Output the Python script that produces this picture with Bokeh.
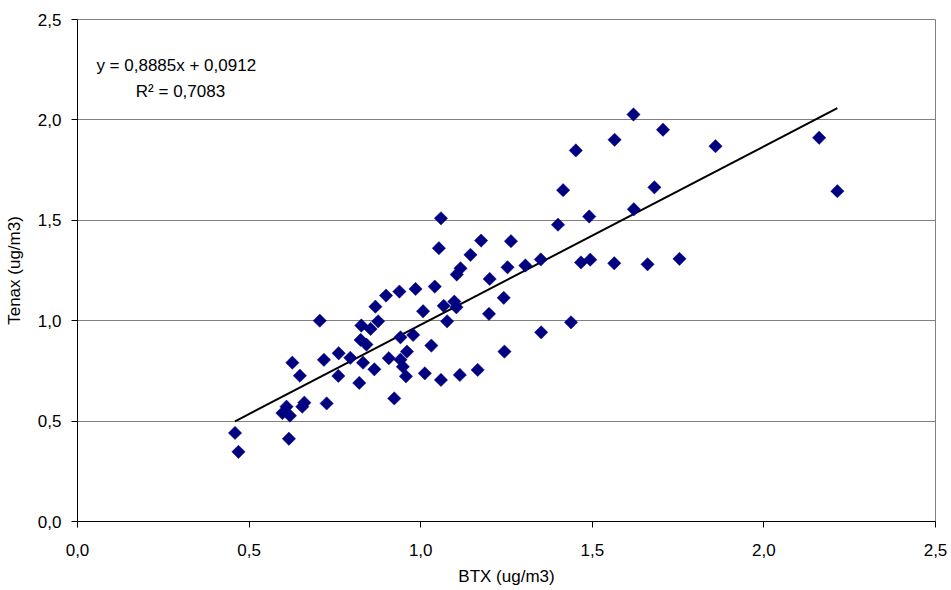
import math
from bokeh.plotting import figure
from bokeh.models import Range1d, FixedTicker, CustomJSTickFormatter, Label, ColumnDataSource
from bokeh.embed import file_html
from bokeh.resources import INLINE

# --- data ---
btx = [0.459, 0.469, 0.616, 0.597, 0.609, 0.619, 0.626, 0.648, 0.655, 0.661,
       0.706, 0.718, 0.726, 0.761, 0.760, 0.795, 0.821, 0.825, 0.842, 0.832,
       0.827, 0.854, 0.876, 0.868, 0.865, 0.899, 0.938, 0.985, 1.041, 0.907,
       0.923, 0.941, 0.978, 0.941, 0.948, 0.960, 0.957, 1.007, 1.031, 1.012,
       1.059, 1.077, 1.067, 1.098, 1.104, 1.114, 1.166, 1.059, 1.053, 1.116,
       1.105, 1.145, 1.176, 1.201, 1.242, 1.263, 1.253, 1.305, 1.350, 1.400,
       1.199, 1.620, 1.565, 1.452, 1.706, 1.859, 2.161, 2.214, 1.415, 1.681,
       1.621, 1.491, 1.467, 1.494, 1.564, 1.661, 1.754, 1.351, 1.438, 1.244]
tenax = [0.441, 0.347, 0.412, 0.540, 0.572, 0.527, 0.791, 0.726, 0.572, 0.592,
         1.000, 0.805, 0.588, 0.838, 0.725, 0.815, 0.690, 0.904, 0.881, 0.791,
         0.976, 0.959, 0.997, 1.070, 0.758, 1.125, 1.145, 1.158, 1.170, 0.813,
         0.613, 0.917, 0.929, 0.806, 0.771, 0.846, 0.723, 1.047, 0.876, 0.738,
         0.705, 0.997, 1.074, 1.095, 1.067, 0.730, 0.755, 1.510, 1.361, 1.261,
         1.230, 1.328, 1.399, 1.208, 1.114, 1.396, 1.266, 1.275, 1.305, 1.478,
         1.034, 2.027, 1.901, 1.848, 1.951, 1.869, 1.911, 1.645, 1.650, 1.664,
         1.555, 1.519, 1.290, 1.304, 1.286, 1.281, 1.308, 0.942, 0.992, 0.846]

slope = 0.8885
intercept = 0.0912
equation_text = "y = 0,8885x + 0,0912"
r2_text = "R\u00b2 = 0,7083"

tick_values = [0.0, 0.5, 1.0, 1.5, 2.0, 2.5]
tick_labels = ["0,0", "0,5", "1,0", "1,5", "2,0", "2,5"]

x_title = "BTX (ug/m3)"
y_title = "Tenax (ug/m3)"

FONT = "Liberation Sans"
FS = "17px"

p = figure(width=951, height=590, output_backend="svg", toolbar_location=None,
           x_range=Range1d(0, 2.5), y_range=Range1d(0, 2.5),
           min_border_left=77, min_border_right=16, min_border_top=19, min_border_bottom=69)
p.background_fill_color = "white"
p.border_fill_color = "white"
p.outline_line_color = "#808080"
p.outline_line_width = 1

# grid
p.xgrid.visible = False
p.ygrid.grid_line_color = "#808080"
p.ygrid.grid_line_width = 1
p.ygrid.ticker = FixedTicker(ticks=tick_values)

fmt_code = """
const i = vals.findIndex(v => Math.abs(v - tick) < 1e-9);
return i >= 0 ? labs[i] : '';
"""
for ax in (p.xaxis[0], p.yaxis[0]):
    ax.ticker = FixedTicker(ticks=tick_values)
    ax.formatter = CustomJSTickFormatter(args=dict(vals=tick_values, labs=tick_labels), code=fmt_code)
    ax.axis_line_color = "black"
    ax.axis_line_width = 1
    ax.major_tick_line_color = "black"
    ax.major_tick_out = 6
    ax.major_tick_in = 0
    ax.minor_tick_line_color = None
    ax.major_label_text_font = FONT
    ax.major_label_text_font_size = FS
    ax.major_label_text_color = "black"
    ax.axis_label_text_font = FONT
    ax.axis_label_text_font_size = FS
    ax.axis_label_text_font_style = "normal"
    ax.axis_label_text_color = "black"

p.xaxis.axis_label = x_title
p.yaxis.axis_label = y_title
p.xaxis.major_label_standoff = 16
p.xaxis.axis_label_standoff = 8
p.yaxis.major_label_standoff = 10
p.yaxis.axis_label_standoff = 11

# trend line from the smallest to the largest x
x0, x1 = min(btx), max(btx)
p.line([x0, x1], [slope * x0 + intercept, slope * x1 + intercept], line_color="black", line_width=2)

src = ColumnDataSource(dict(x=btx, y=tenax))
p.scatter("x", "y", source=src, marker="square", size=9.4, angle=math.pi / 4,
          fill_color="#000080", line_color="#000080", line_width=0.5)

p.add_layout(Label(x=0.055, y=2.272, text=equation_text, text_baseline="middle",
                   text_font=FONT, text_font_size=FS, text_color="black"))
p.add_layout(Label(x=0.170, y=2.139, text=r2_text, text_baseline="middle",
                   text_font=FONT, text_font_size=FS, text_color="black"))

open("out.html", "w").write(file_html(p, INLINE))
